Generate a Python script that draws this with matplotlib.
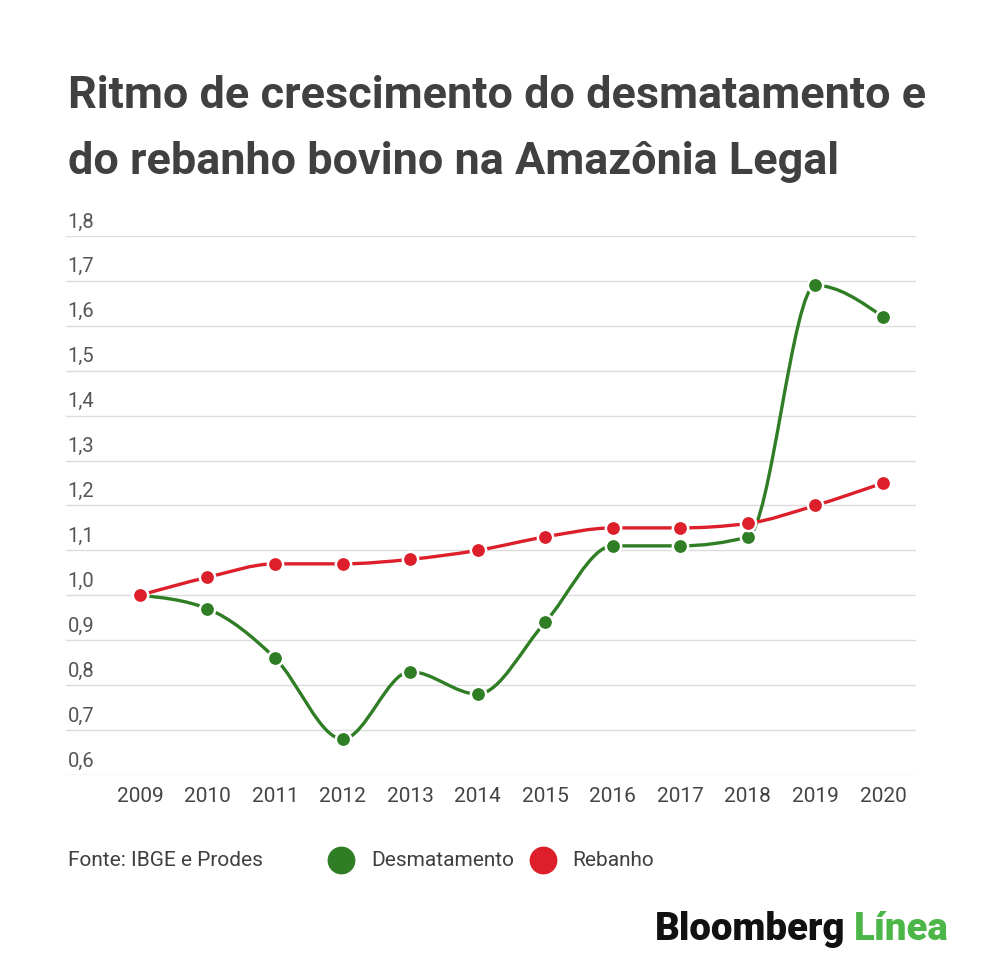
import numpy as np
import matplotlib
matplotlib.use("Agg")
import matplotlib.pyplot as plt
from matplotlib.lines import Line2D
from matplotlib.path import Path
from matplotlib.patches import PathPatch

plt.rcParams['font.family'] = ['Roboto', 'DejaVu Sans']

years = [2009, 2010, 2011, 2012, 2013, 2014, 2015, 2016, 2017, 2018, 2019, 2020]
desmatamento = [1.00, 0.97, 0.86, 0.68, 0.83, 0.78, 0.94, 1.11, 1.11, 1.13, 1.69, 1.62]
rebanho = [1.00, 1.04, 1.07, 1.07, 1.08, 1.10, 1.13, 1.15, 1.15, 1.16, 1.20, 1.25]
yticks = [0.6, 0.7, 0.8, 0.9, 1.0, 1.1, 1.2, 1.3, 1.4, 1.5, 1.6, 1.7, 1.8]
ytick_labels = ["0,6", "0,7", "0,8", "0,9", "1,0", "1,1", "1,2", "1,3", "1,4", "1,5", "1,6", "1,7", "1,8"]
series_names = ["Desmatamento", "Rebanho"]
title_lines = ["Ritmo de crescimento do desmatamento e", "do rebanho bovino na Amazônia Legal"]
source = "Fonte: IBGE e Prodes"

GREEN = "#2f7d24"
RED = "#dd1f2b"
TXT = "#404040"


def monotone_path(x, y):
    """Bezier path of a monotone-X cubic curve through the points (d3 curveMonotoneX)."""
    x = np.asarray(x, float)
    y = np.asarray(y, float)
    n = len(x)
    h = np.diff(x)
    s = np.diff(y) / h
    t = np.zeros(n)
    for i in range(1, n - 1):
        s0, s1 = s[i - 1], s[i]
        p = (s0 * h[i] + s1 * h[i - 1]) / (h[i - 1] + h[i])
        t[i] = (np.sign(s0) + np.sign(s1)) * min(abs(s0), abs(s1), 0.5 * abs(p))
    t[0] = (3 * s[0] - t[1]) / 2
    t[-1] = (3 * s[-1] - t[-2]) / 2
    verts = [(x[0], y[0])]
    codes = [Path.MOVETO]
    for i in range(n - 1):
        dx = h[i] / 3
        verts += [(x[i] + dx, y[i] + dx * t[i]), (x[i + 1] - dx, y[i + 1] - dx * t[i + 1]), (x[i + 1], y[i + 1])]
        codes += [Path.CURVE4] * 3
    return Path(verts, codes)


fig = plt.figure(figsize=(10, 9.77), dpi=100)
ax = fig.add_axes([0.066, 0.2068, 0.85, 0.5517])
ax.set_xlim(2007.905, 2020.49)
ax.set_ylim(0.6, 1.8)

for v, lab in zip(yticks, ytick_labels):
    ax.axhline(v, color="#dcdcdc", lw=1.0, zorder=0)
    ax.text(0.002, v + 0.010, lab, transform=ax.get_yaxis_transform(),
            ha="left", va="bottom", fontsize=14.5, color="#555555")

for vals, col in [(desmatamento, GREEN), (rebanho, RED)]:
    ax.add_patch(PathPatch(monotone_path(years, vals), facecolor="none", edgecolor=col, lw=2.4,
                           capstyle="round", zorder=3))
    ax.plot(years, vals, ls="none", marker="o", ms=11, mfc=col, mec="white", mew=1.8, zorder=4)

ax.set_xticks(years)
ax.set_xticklabels([str(y) for y in years])
ax.set_yticks([])
ax.tick_params(axis="x", length=0, pad=9, labelsize=15, labelcolor="#444444")
for sp in ax.spines.values():
    sp.set_visible(False)

# Title
fig.text(0.068, 1 - 108 / 977, title_lines[0], fontsize=32.4, fontweight="bold", color=TXT, va="baseline", ha="left")
fig.text(0.068, 1 - 174 / 977, title_lines[1], fontsize=32.4, fontweight="bold", color=TXT, va="baseline", ha="left")

# Source and legend
ly = 1 - 860 / 977
fig.text(0.068, ly, source, fontsize=15, color=TXT, va="center", ha="left")
for name, col, cx, tx in [(series_names[0], GREEN, 0.341, 0.371), (series_names[1], RED, 0.543, 0.572)]:
    fig.add_artist(Line2D([cx], [ly], marker="o", ms=19, mfc=col, mec=col, ls="none", transform=fig.transFigure))
    fig.text(tx, ly, name, fontsize=15, color=TXT, va="center", ha="left")

# Logo
lt = fig.text(0.655, 1 - 940 / 977, "Bloomberg", fontsize=27.6, fontweight="heavy", color="#111111", va="baseline", ha="left")
fig.canvas.draw()
bb = lt.get_window_extent()
x2 = fig.transFigure.inverted().transform((bb.x1, 0))[0]
fig.text(x2 + 0.008, 1 - 940 / 977, "Línea", fontsize=27.6, fontweight="heavy", color="#4cb748", va="baseline", ha="left")

fig.savefig("out.png", dpi=100, facecolor="white")
